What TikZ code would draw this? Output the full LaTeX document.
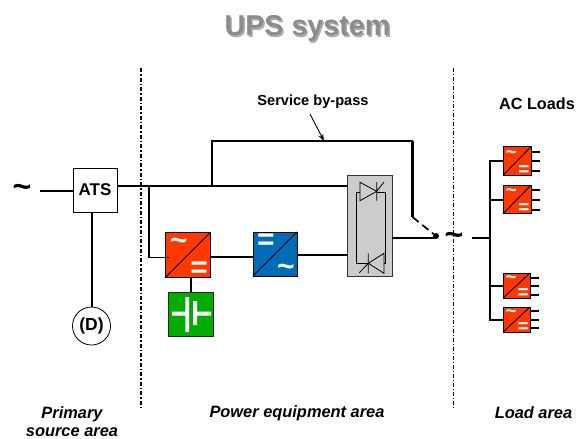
\documentclass[tikz,border=0pt]{standalone}
\usepackage{fontspec}
\setmainfont{Liberation Sans}
\usetikzlibrary{arrows.meta,calc}
\definecolor{convred}{RGB}{255,56,0}
\definecolor{convblue}{RGB}{0,108,184}
\definecolor{batgreen}{RGB}{0,172,0}
\definecolor{swgray}{RGB}{204,204,204}
\definecolor{titlegray}{RGB}{140,140,140}
\tikzset{
  wire/.style={line width=1.7pt},
  bus/.style={line width=2.6pt},
  boxnode/.style={draw=black,line width=1pt,minimum width=#1,minimum height=#1,inner sep=0pt,outer sep=0pt},
  acsign/.style={font=\bfseries\fontsize{32}{32}\selectfont,inner sep=0pt,text height=19.2pt,text depth=0pt},
  caption/.style={font=\bfseries\itshape\fontsize{16.4}{18}\selectfont,align=center,inner sep=0pt},
  label text/.style={font=\bfseries\fontsize{14.6}{16}\selectfont,inner sep=0pt},
  whitesym/.style={text=white,inner sep=0pt,font=\bfseries\fontsize{#1}{#1}\selectfont,text height={0.6*#1pt},text depth=0pt}
}
% name, x, y (centre), width, height, fill, top sign, bottom sign, symbol size
\newcommand{\convbox}[9]{%
  \node[draw=black,line width=1pt,fill=#6,minimum width=#4pt,minimum height=#5pt,inner sep=0pt,outer sep=0pt] (#1) at (#2,#3) {};
  \draw[line width=0.9pt] (#1.south west) -- (#1.north east);
  \node[whitesym=#9] at ($(#1.north west)!0.29!(#1.north east)+(0,{0.2*#5})$) {#7};
  \node[whitesym=#9] at ($(#1.south west)!0.75!(#1.south east)+(0,{-0.2*#5})$) {#8};
}
\begin{document}
\begin{tikzpicture}[x=1pt,y=-1pt]
\useasboundingbox (0,0) rectangle (581,439);
% title
\node[font=\bfseries\fontsize{28.7}{28.7}\selectfont,text=titlegray!70,inner sep=0pt] at (309,30) {UPS system};
\node[font=\bfseries\fontsize{28.7}{28.7}\selectfont,text=titlegray,inner sep=0pt] (title) at (307.5,28.5) {UPS system};
% area separators
\coordinate (sepAtop) at (141,68); \coordinate (sepAbot) at (141,408);
\coordinate (sepBtop) at (453,68); \coordinate (sepBbot) at (453,408);
\draw[line width=1.4pt,dash pattern=on 4pt off 2pt on 1.5pt off 2pt] (sepAtop) -- (sepAbot);
\draw[line width=0.8pt,dash pattern=on 4pt off 2pt on 1pt off 2pt] (sepBtop) -- (sepBbot);
% source side
\node[acsign] (src) at (22,188) {\char`~};
\node[boxnode=44pt,fill=white,font=\bfseries\fontsize{17}{17}\selectfont] (ats) at (95,190) {ATS};
\node[draw=black,line width=0.8pt,fill=white,circle,minimum size=38pt,inner sep=0pt,outer sep=0pt,font=\bfseries\fontsize{17.5}{17.5}\selectfont] (gen) at (91.5,326) {(D)};
\coordinate (srcEnd) at (40,191);
\coordinate (atsS) at (92,212);
\coordinate (genN) at (92,307);
\draw[wire] (srcEnd) -- (srcEnd -| ats.west);
\draw[wire] (atsS) -- (genN);
% converters
\convbox{rect}{188}{254.8}{44.5}{44.5}{convred}{\char`~}{=}{30}
\convbox{inv}{275}{254}{44}{44}{convblue}{=}{\char`~}{30}
% battery
\node[draw=black!85,line width=1pt,fill=batgreen,minimum width=45pt,minimum height=44pt,inner sep=0pt,outer sep=0pt] (bat) at (190.5,314) {};
\fill[white] (172,311.5) rectangle (186,315.5) (185.3,297) rectangle (189,332) (193,301) rectangle (197,325) (196,311.5) rectangle (211,315.5);
% static switch
\node[draw=black!80,line width=1pt,fill=swgray,minimum width=44.5pt,minimum height=100.5pt,inner sep=0pt,outer sep=0pt] (sw) at (369.8,226) {};
\draw[line width=0.8pt] (360,182.3) -- (360,200.7) -- (376.7,191.3) -- cycle;
\draw[line width=0.8pt] (376.7,182) -- (376.7,200.7) (376.7,191.3) -- (384,182);
\draw[line width=0.8pt] (384,253.3) -- (384,273.3) -- (368.3,263.3) -- cycle;
\draw[line width=0.8pt] (368.3,253.3) -- (368.3,273.3) (368.3,263.3) -- (359.3,272.7);
\draw[line width=0.8pt] (360,192.3) -- (356.7,192.3) -- (356.7,263.3) -- (368.3,263.3);
\draw[line width=0.8pt] (376.7,192.3) -- (385.7,192.3) -- (385.7,263.3) -- (384,263.3);
% main wires
\coordinate (busIn) at (149,186);
\coordinate (busKnee) at (149,257.5);
\coordinate (bypassBase) at (212,186);
\coordinate (bypassTop) at (212,141);
\coordinate (bypassCorner) at (412.5,141);
\coordinate (bladeTop) at (412.5,217);
\coordinate (rectIn) at (168.5,257.5);
\coordinate (dcLink) at (0,257);
\coordinate (acLink) at (0,255);
\coordinate (outLink) at (0,238);
\coordinate (batLink) at (191,0);
\node[circle,fill=black,minimum size=6pt,inner sep=0pt,outer sep=0pt] (pivot) at (436,236) {};
\draw[wire] (ats.east |- busIn) -- (sw.west |- busIn);
\draw[bus] (busIn) -- (busKnee);
\draw[wire] (busKnee) -- (rectIn);
\draw[wire] (bypassBase) -- (bypassTop) -- (bypassCorner);
\draw[bus] (bypassCorner) -- (bladeTop);
\draw[wire,dash pattern=on 8pt off 4.5pt] (bladeTop) -- (pivot);
\draw[bus] (rect.east |- dcLink) -- (inv.west |- dcLink);
\draw[wire] (inv.east |- acLink) -- (sw.west |- acLink);
\draw[wire] (sw.east |- outLink) -- (pivot.center |- outLink);
\draw[wire] (batLink |- rect.south) -- (batLink |- bat.north);
% load side
\node[acsign] (out) at (454,236) {\char`~};
\coordinate (loadIn) at (472,238);
\coordinate (busLoad) at (490,238);
\coordinate (busTop) at (490,160);
\coordinate (busBot) at (490,321);
\draw[wire] (loadIn) -- (busLoad);
\draw[bus] (busTop) -- (busBot);
\convbox{loadA}{517}{161}{28}{28.5}{convred}{\char`~}{=}{19}
\convbox{loadB}{517}{199.5}{28}{28.5}{convred}{\char`~}{=}{19}
\convbox{loadC}{516.5}{285.5}{27}{25}{convred}{\char`~}{=}{19}
\convbox{loadD}{516.5}{319.5}{27}{25}{convred}{\char`~}{=}{19}
\foreach \n/\y in {loadA/161,loadB/200,loadC/286,loadD/320}{
  \coordinate (tap) at (489,\y);
  \draw[wire] (tap) -- (\n.west |- tap);
}
\foreach \n/\a/\b/\c in {loadA/152/161/171,loadB/190/200/210,loadC/278/286/295,loadD/311/320/328}{
  \foreach \y in {\a,\b,\c}{
    \coordinate (tap) at (0,\y);
    \draw[wire] (\n.east |- tap) -- ++(9,0);
  }
}
% labels
\node[label text] (svc) at (313,102) {Service by-pass};
\coordinate (svcTail) at (310,114);
\coordinate (svcHead) at (324,141);
\draw[line width=0.9pt,-{Stealth[length=7pt,width=5pt]}] (svcTail) -- (svcHead);
\node[font=\bfseries\fontsize{16.2}{16.2}\selectfont,inner sep=0pt] (acl) at (537,104) {AC Loads};
\node[caption] (capA) at (72,421.5) {Primary\\source area};
\node[caption] (capB) at (297,413) {Power equipment area};
\node[caption] (capC) at (533.5,413) {Load area};
\end{tikzpicture}
\end{document}
